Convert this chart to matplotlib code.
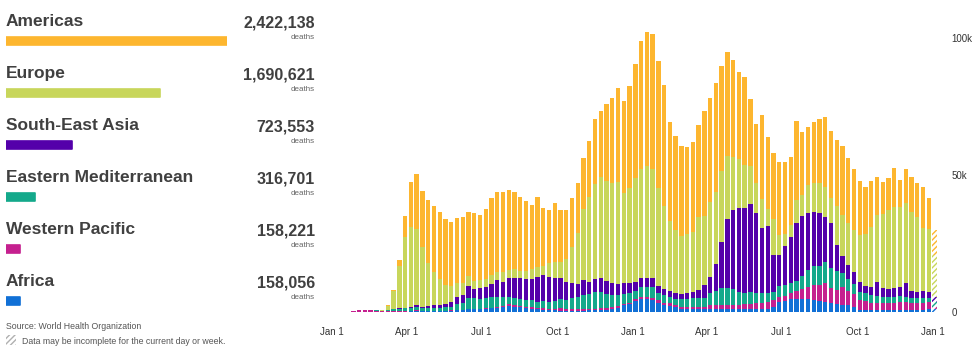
import numpy as np
import pandas as pd
import matplotlib
matplotlib.use("Agg")
import matplotlib.pyplot as plt
from matplotlib.patches import Rectangle

# weekly deaths (thousands), one value per week starting 2020-01-20
first_week = "2020-01-20"

africa = [0, 0, 0, 0, 0, 0, 0, 0, 0.02, 0.05,
          0.1, 0.2, 0.2, 0.2, 0.2, 0.3, 0.4, 0.4, 0.5, 0.6,
          0.8, 1.0, 1.1, 1.1, 1.2, 1.4, 1.6, 2.0, 2.3, 2.0,
          1.7, 1.4, 1.1, 1.0, 0.8, 0.7, 0.6, 0.5, 0.5, 0.5,
          0.5, 0.5, 0.6, 0.7, 0.8, 0.9, 1.0, 1.6, 2.4, 2.8,
          4.1, 4.6, 4.6, 4.4, 3.4, 2.4, 2.2, 1.7, 1.2, 1.2,
          1.2, 1.0, 1.0, 1.0, 1.0, 1.0, 1.0, 1.0, 1.0, 1.0,
          1.0, 1.0, 1.0, 1.0, 1.7, 3.8, 4.0, 4.6, 4.6, 4.8,
          4.8, 4.4, 4.1, 3.8, 3.2, 2.9, 2.6, 2.6, 1.7, 0.7,
          0.7, 0.7, 0.7, 0.7, 0.7, 0.7, 0.7, 0.7, 0.7, 0.9,
          0.9, 1.0, 1.1]

western_pacific = [0.15, 0.4, 0.6, 0.8, 0.7, 0.5, 0.3, 0.2, 0.2, 0.2,
                   0.2, 0.3, 0.5, 0.3, 0.2, 0.1, 0.1, 0.1, 0.1, 0.1,
                   0.1, 0.1, 0.1, 0.1, 0.1, 0.1, 0.1, 0.1, 0.5, 0.6,
                   0.6, 0.6, 0.6, 0.6, 0.5, 0.4, 0.5, 0.8, 0.7, 0.7,
                   0.7, 0.5, 0.5, 0.5, 0.5, 0.7, 0.7, 0.6, 0.5, 0.6,
                   0.5, 1.0, 1.0, 0.8, 1.0, 1.0, 1.0, 0.7, 0.8, 0.8,
                   0.8, 1.0, 0.7, 1.4, 1.4, 1.4, 1.4, 1.5, 1.7, 1.9,
                   1.9, 2.2, 2.4, 2.5, 2.7, 1.8, 1.9, 2.5, 3.2, 3.7,
                   4.5, 5.5, 5.8, 6.7, 5.5, 5.1, 6.4, 5.1, 4.9, 3.7,
                   3.4, 2.7, 2.7, 2.5, 2.7, 2.7, 2.8, 2.8, 2.7, 2.5,
                   2.5, 2.8, 0.9]

eastern_mediterranean = [0, 0, 0, 0, 0.05, 0.1, 0.2, 0.5, 0.9, 1.0,
                         1.0, 1.1, 1.3, 1.0, 1.0, 1.0, 1.0, 1.2, 1.4, 2.3,
                         2.5, 3.9, 3.8, 3.7, 3.9, 4.0, 3.9, 3.3, 2.8, 2.6,
                         2.3, 2.4, 2.7, 2.2, 2.7, 2.7, 3.0, 3.3, 3.2, 3.8,
                         4.2, 5.2, 5.5, 6.0, 5.9, 4.9, 4.5, 4.0, 3.6, 3.4,
                         3.1, 3.4, 3.4, 3.8, 2.7, 2.8, 2.2, 2.2, 2.6, 2.9,
                         3.0, 3.2, 3.5, 4.4, 5.4, 6.3, 6.3, 5.8, 4.7, 4.2,
                         4.5, 3.6, 3.7, 3.5, 3.0, 3.9, 4.0, 3.6, 3.7, 4.8,
                         6.1, 7.1, 7.1, 7.9, 7.3, 7.0, 5.1, 4.3, 3.5, 3.0,
                         2.7, 2.8, 2.5, 2.4, 2.0, 2.0, 2.5, 2.1, 1.6, 1.6,
                         1.6, 1.2, 1.8]

south_east_asia = [0, 0, 0, 0, 0, 0, 0, 0, 0.05, 0.1,
                   0.2, 0.4, 0.5, 0.5, 0.8, 1.0, 1.0, 1.2, 1.5, 2.4,
                   2.8, 4.5, 3.5, 3.8, 3.9, 4.8, 6.0, 5.6, 6.8, 7.1,
                   7.7, 7.7, 7.7, 9.1, 9.5, 9.1, 8.5, 7.7, 6.6, 5.7,
                   4.7, 5.5, 4.5, 5.0, 5.1, 5.0, 4.3, 4.0, 4.0, 3.7,
                   3.4, 3.3, 3.3, 3.3, 2.4, 2.3, 2.3, 2.5, 1.9, 1.9,
                   2.4, 2.8, 4.7, 6.1, 9.6, 17.0, 25.2, 29.0, 30.8, 30.8,
                   32.1, 29.3, 23.5, 24.5, 13.5, 11.4, 14.4, 16.9, 21.2, 21.8,
                   20.7, 19.5, 19.3, 16.2, 16.4, 9.5, 6.5, 5.2, 4.4, 3.5,
                   2.8, 3.1, 5.0, 3.1, 2.9, 3.3, 3.0, 4.9, 2.8, 2.2,
                   2.7, 2.4, 1.8]

europe = [0, 0, 0, 0.05, 0.1, 0.2, 0.3, 1.6, 6.4, 15.5,
          26.1, 29.2, 28.0, 21.7, 15.6, 12.1, 9.6, 7.0, 6.1, 5.1,
          4.5, 3.7, 3.0, 3.1, 3.1, 3.2, 2.9, 3.5, 3.0, 3.3,
          2.8, 3.0, 3.6, 3.4, 3.5, 4.9, 5.6, 6.1, 8.5, 13.0,
          18.7, 25.9, 31.1, 34.6, 37.0, 36.5, 36.5, 37.2, 32.9, 34.9,
          37.9, 39.9, 40.9, 39.9, 36.0, 30.4, 25.5, 22.9, 21.4, 21.7,
          22.0, 26.6, 25.3, 27.2, 26.6, 26.0, 23.1, 19.2, 17.7, 15.9,
          13.7, 11.0, 10.6, 6.0, 13.0, 7.3, 4.1, 4.2, 8.3, 7.7,
          10.4, 10.8, 10.8, 11.0, 9.2, 14.3, 14.9, 15.2, 15.5, 17.3,
          18.9, 21.6, 24.6, 27.2, 29.0, 29.6, 29.5, 29.3, 28.9, 27.4,
          22.9, 23.0, 15.3]

americas = [0, 0, 0, 0, 0, 0, 0.05, 0.1, 0.3, 2.2,
            7.6, 16.2, 19.9, 20.6, 23.2, 24.3, 24.4, 24.1, 23.4, 24.0,
            23.9, 23.5, 24.6, 23.7, 25.4, 28.3, 29.3, 29.3, 29.2, 28.4,
            26.9, 25.5, 23.4, 25.7, 20.9, 19.4, 21.8, 18.9, 17.8, 17.9,
            18.2, 18.7, 20.4, 23.7, 24.2, 28.1, 31.3, 34.4, 33.9, 37.3,
            41.7, 46.7, 49.1, 49.5, 46.1, 44.1, 36.2, 34.4, 32.8, 32.0,
            32.9, 33.6, 38.3, 38.3, 39.9, 38.1, 38.2, 35.7, 31.8, 32.1,
            24.6, 21.6, 30.9, 26.6, 24.1, 26.8, 26.6, 25.0, 29.0, 22.9,
            21.3, 22.1, 23.4, 25.6, 24.7, 24.1, 25.2, 23.8, 22.3, 19.7,
            17.1, 17.0, 14.0, 11.8, 11.6, 14.5, 9.8, 12.5, 12.8, 12.4,
            15.0, 11.4, 9.1]

regions = ["Americas", "Europe", "South-East Asia",
           "Eastern Mediterranean", "Western Pacific", "Africa"]
totals = [2422138, 1690621, 723553, 316701, 158221, 158056]
region_colors = ["#fdb62f", "#c8d65b", "#5400aa", "#14a98b", "#c5208f", "#1170d6"]

tick_dates = ["2020-01-01", "2020-04-01", "2020-07-01", "2020-10-01", "2021-01-01",
              "2021-04-01", "2021-07-01", "2021-10-01", "2022-01-01"]
tick_labels = ["Jan 1", "Apr 1", "Jul 1", "Oct 1", "Jan 1", "Apr 1", "Jul 1", "Oct 1", "Jan 1"]

plt.rcParams["font.family"] = ["Liberation Sans", "DejaVu Sans"]
plt.rcParams["hatch.linewidth"] = 1.0

W, H = 975, 354
fig = plt.figure(figsize=(W / 100, H / 100), dpi=100)

# ---- stacked weekly bars
ax = fig.add_axes([320 / W, (H - 312) / H, 625 / W, (312 - 24.8) / H])
weeks = pd.date_range(first_week, periods=len(americas), freq="7D")
stack = [africa, western_pacific, eastern_mediterranean, south_east_asia, europe, americas]
stack_colors = region_colors[::-1]
bottom = np.zeros(len(weeks))
for vals, c in zip(stack, stack_colors):
    v = np.array(vals) * 1000
    ax.bar(weeks[:-1], v[:-1], bottom=bottom[:-1], width=5.3, color=c, linewidth=0)
    ax.bar(weeks[-1:], v[-1:], bottom=bottom[-1:], width=5.3, facecolor="white",
           edgecolor=c, hatch="//////", linewidth=0)
    bottom += v

x0 = pd.Timestamp("2020-01-01")
ax.set_xlim(x0 - pd.Timedelta(days=14.6), x0 + pd.Timedelta(days=745.7))
ax.set_ylim(0, 105000)
ax.set_xticks(pd.to_datetime(tick_dates))
ax.set_xticklabels(tick_labels)
ax.set_yticks([0, 50000, 100000])
ax.set_yticklabels(["0", "50k", "100k"])
ax.yaxis.tick_right()
ax.tick_params(axis="y", length=0, pad=4.5, labelsize=7, labelcolor="#333333")
ax.tick_params(axis="x", length=0, pad=11, labelsize=7, labelcolor="#333333")
for s in ax.spines.values():
    s.set_visible(False)

# ---- left legend bars, scaled by total deaths
axl = fig.add_axes([6 / W, 0, 221 / W, 1])
bar_y = [40.5 + 52 * k for k in range(len(regions))]
axl.barh(bar_y, totals, height=8, color=region_colors, edgecolor=region_colors,
         linewidth=1.2, joinstyle="round")
axl.set_xlim(0, max(totals))
axl.set_ylim(H, 0)
axl.axis("off")

# ---- texts
axt = fig.add_axes([0, 0, 1, 1])
axt.set_xlim(0, W)
axt.set_ylim(H, 0)
axt.axis("off")
for k, (name, tot) in enumerate(zip(regions, totals)):
    axt.text(6, 26 + 52 * k, name, fontsize=12.5, fontweight="bold",
             color="#404040", va="baseline", ha="left")
    axt.text(315, 28 + 52 * k, f"{tot:,}", fontsize=11.5, fontweight="bold",
             color="#404040", va="baseline", ha="right")
    axt.text(315, 37.5 + 52 * k, "deaths", fontsize=5.8, color="#666666",
             va="center", ha="right")

axt.text(6, 329, "Source: World Health Organization", fontsize=6.3,
         color="#555555", va="baseline", ha="left")
axt.add_patch(Rectangle((6, 334.5), 10, 10, facecolor="white", edgecolor="#b0b0b0",
                        hatch="//////", linewidth=0))
axt.text(22, 344, "Data may be incomplete for the current day or week.",
         fontsize=6.3, color="#555555", va="baseline", ha="left")

fig.savefig("out.png", dpi=100)
